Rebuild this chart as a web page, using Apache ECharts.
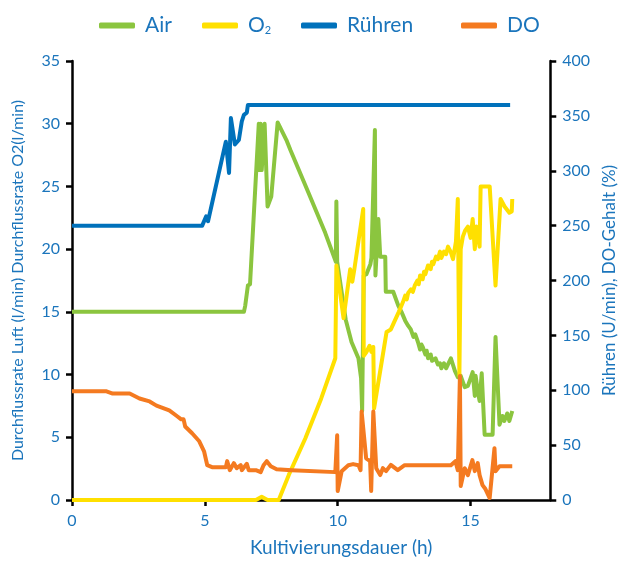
<!DOCTYPE html>
<html>
<head>
<meta charset="utf-8">
<script src="https://cdn.jsdelivr.net/npm/echarts@6/dist/echarts.min.js"></script>
<style>
html,body{margin:0;padding:0;background:#fff;}
#chart{width:626px;height:562px;}
</style>
</head>
<body>
<div id="chart"></div>
<script>
// Tick values
var xTicks = [0, 5, 10, 15];
var leftTicks = [0, 5, 10, 15, 20, 25, 30, 35];
var rightTicks = [0, 50, 100, 150, 200, 250, 300, 350, 400];

// Series names
var seriesNames = ['Air', 'O₂', 'Rühren', 'DO'];

// Air flow (l/min), [time h, value]
var airData = [
[0,15],[6.47,15],[6.52,15.5],[6.57,16.3],[6.62,17.1],[6.7,17.2],[7.03,30],[7.05,26.3],[7.1,30],[7.14,26.3],[7.25,30],
[7.36,23.4],[7.5,24.2],[7.74,30.1],[8.07,28.7],[8.22,27.9],[8.9,24.5],[9.53,21.3],[9.93,19.0],[9.95,23.8],[9.98,19.0],
[10.3,14.4],[10.52,12.6],[10.78,11.3],[10.88,9.7],[10.92,7.1],[10.98,17.9],[11.08,18.0],[11.23,18.8],[11.27,19.3],
[11.4,29.5],[11.42,17.9],[11.53,22.4],[11.6,19.4],[11.79,19.4],[11.81,16.6],[12.09,16.6],[12.28,15.5],[12.35,15.6],[12.4,15.0],
[12.47,14.9],[12.54,14.3],[12.6,14.4],[12.65,13.9],[12.72,14.0],[12.75,13.6],[12.85,13.0],[12.92,13.2],[13.02,12.6],[13.1,12.0],
[13.15,12.4],[13.2,12.2],[13.3,11.6],[13.35,11.9],[13.4,11.3],[13.5,11.6],[13.55,11.1],[13.6,11.0],[13.68,11.3],[13.77,10.8],
[13.85,10.9],[13.9,10.5],[14.0,10.9],[14.08,10.5],[14.15,10.6],[14.26,11.3],[14.41,10.3],[14.52,9.8],
[14.63,9.9],[14.78,9.0],[14.9,9.1],[15.0,9.7],[15.08,10.2],[15.16,8.3],[15.19,9.9],[15.27,8.7],[15.34,7.9],[15.42,10.1],
[15.53,5.2],[15.83,5.2],[15.94,13.0],[16.09,6.0],[16.2,6.7],[16.27,6.3],[16.38,6.9],[16.46,6.3],[16.57,7.1]
];

// O2 flow (l/min)
var o2Data = [
[0,0],[6.92,0],[7.14,0.25],[7.36,0],[7.78,0],[8.16,2.0],[8.78,4.9],[9.38,8.1],[9.91,11.3],[9.95,18.7],[10.22,14.5],
[10.47,18.4],[10.55,17.4],[10.62,18.3],[10.96,23.2],[10.98,11.5],[11.08,11.8],[11.2,12.3],[11.27,11.8],[11.34,12.2],
[11.37,7.3],[11.84,13.4],[12.0,13.6],[12.3,15.0],[12.46,15.8],[12.54,16.3],[12.6,16.0],[12.65,16.5],[12.76,16.8],[12.83,16.6],
[12.9,17.1],[13.0,17.5],[13.05,17.2],[13.1,17.9],[13.2,17.6],[13.25,18.2],[13.3,18.0],[13.4,18.7],[13.5,18.4],[13.55,19.0],
[13.6,18.8],[13.7,19.4],[13.77,19.2],[13.85,19.8],[13.9,19.3],[14.0,19.8],[14.08,19.6],
[14.15,20.2],[14.25,19.8],[14.34,19.2],[14.45,20.6],[14.52,24.0],[14.58,9.9],[14.63,20.0],[14.71,21.0],[14.8,21.5],
[14.9,21.8],[15.0,20.9],[15.08,22.4],[15.16,20.0],[15.22,21.8],[15.27,21.3],[15.34,20.2],[15.38,25.0],[15.72,25.0],
[15.94,17.1],[16.13,24.0],[16.28,23.4],[16.46,22.9],[16.55,23.0],[16.57,24.0]
];

// Stirring (U/min)
var ruehrenData = [
[0,250],[4.9,250],[5.05,258.5],[5.12,254],[5.79,326.5],[5.91,298],[5.98,348],[6.13,324],[6.28,328],[6.39,345],
[6.47,351],[6.58,353],[6.62,360],[16.49,360]
];

// DO (%)
var doData = [
[0,99],[1.3,99],[1.53,97],[2.17,97],[2.54,92.5],[2.92,89.8],[3.18,86],[3.66,81.6],[3.92,77],[4.11,73.5],[4.2,73.5],
[4.26,67],[4.52,60.8],[4.79,53.5],[4.97,44.4],[5.09,31.7],[5.27,29.9],[5.79,29.9],[5.84,35.4],[5.94,27.2],[6.09,33.6],
[6.2,29],[6.35,31.7],[6.39,27.2],[6.58,33],[6.65,27.2],[6.92,27.2],[7.1,25.4],[7.21,31.7],[7.33,35.4],[7.48,30.8],
[7.7,28.1],[8.27,27.2],[9.91,25.4],[9.98,59],[10.0,8.2],[10.15,26.3],[10.4,31.7],[10.58,32.7],[10.78,31.7],[10.86,27.2],
[10.9,80.7],[11.07,38],[11.22,35.4],[11.26,8.2],[11.34,80.7],[11.45,29],[11.6,22.7],[11.7,29],[11.82,26.3],[12.0,32],
[12.26,27.2],[12.52,31.7],[14.26,31.7],[14.43,35.4],[14.52,27.2],[14.6,113],[14.63,12.7],[14.78,29],[14.9,22.7],
[15.07,36.3],[15.16,26.3],[15.27,33.6],[15.34,22.7],[15.45,13.6],[15.56,10],[15.72,1.8],[15.9,47.2],[15.94,26.3],
[16.09,30.8],[16.57,30.8]
];

var colors = ['#8bc53f', '#ffe000', '#0071bb', '#f47a20'];
var textBlue = '#1b75bc';
var FONT = 'Lato, "Liberation Sans", sans-serif';

var chart = echarts.init(document.getElementById('chart'), null, {renderer: 'canvas'});

function legendAt(name, left) {
  return {
    data: [name],
    left: left,
    top: 10,
    icon: 'roundRect',
    itemWidth: 36,
    itemHeight: 6,
    selectedMode: false,
    textStyle: {
      color: textBlue, fontSize: 21, fontFamily: FONT, padding: [0, 0, 0, 5],
      rich: {
        o: {color: textBlue, fontSize: 21, fontFamily: FONT},
        s: {color: textBlue, fontSize: 11, fontFamily: FONT, padding: [10, 0, 0, 0]}
      }
    },
    formatter: function (n) { return n === 'O₂' ? '{o|O}{s|2}' : n; }
  };
}

var axisLineStyle = {show: true, lineStyle: {color: '#000', width: 2.5}};
var axisTickStyle = {show: true, length: 6, lineStyle: {color: '#000', width: 2.5}};

var option = {
  animation: false,
  backgroundColor: '#fff',
  legend: [
    legendAt(seriesNames[0], 94),
    legendAt(seriesNames[1], 197),
    legendAt(seriesNames[2], 296),
    legendAt(seriesNames[3], 456)
  ],
  grid: {left: 72, right: 71, top: 61, bottom: 60, containLabel: false},
  xAxis: {
    type: 'value',
    min: 0, max: 18, interval: 5,
    name: 'Kultivierungsdauer (h)',
    nameLocation: 'middle',
    nameGap: 38,
    nameTextStyle: {color: textBlue, fontSize: 19, fontFamily: FONT, padding: [0, 0, 0, 60]},
    axisLine: axisLineStyle,
    axisTick: axisTickStyle,
    splitLine: {show: false},
    axisLabel: {
      color: textBlue, fontSize: 16, fontFamily: FONT, margin: 13, showMaxLabel: false,
      formatter: function (v) { return xTicks.indexOf(v) >= 0 ? String(v) : ''; }
    }
  },
  yAxis: [
    {
      type: 'value', position: 'left',
      min: leftTicks[0], max: leftTicks[leftTicks.length - 1], interval: 5,
      name: 'Durchflussrate Luft (l/min) Durchflussrate O2(l/min)',
      nameLocation: 'middle', nameGap: 46, nameRotate: 90,
      nameTextStyle: {color: textBlue, fontSize: 16, fontFamily: FONT},
      axisLine: axisLineStyle, axisTick: axisTickStyle, splitLine: {show: false},
      axisLabel: {color: textBlue, fontSize: 16, fontFamily: FONT, margin: 12}
    },
    {
      type: 'value', position: 'right',
      min: rightTicks[0], max: rightTicks[rightTicks.length - 1], interval: 50,
      name: 'Rühren (U/min), DO-Gehalt (%)',
      nameLocation: 'middle', nameGap: 50, nameRotate: 90,
      nameTextStyle: {color: textBlue, fontSize: 17, fontFamily: FONT},
      axisLine: axisLineStyle, axisTick: axisTickStyle, splitLine: {show: false},
      axisLabel: {color: textBlue, fontSize: 16, fontFamily: FONT, margin: 12}
    }
  ],
  series: [
    {name: seriesNames[0], type: 'line', yAxisIndex: 0, data: airData, showSymbol: false, symbol: 'none',
     lineStyle: {color: colors[0], width: 4, join: 'round'}, itemStyle: {color: colors[0]}, z: 2},
    {name: seriesNames[1], type: 'line', yAxisIndex: 0, data: o2Data, showSymbol: false, symbol: 'none',
     lineStyle: {color: colors[1], width: 4, join: 'round'}, itemStyle: {color: colors[1]}, z: 3},
    {name: seriesNames[2], type: 'line', yAxisIndex: 1, data: ruehrenData, showSymbol: false, symbol: 'none',
     lineStyle: {color: colors[2], width: 4, join: 'round'}, itemStyle: {color: colors[2]}, z: 4},
    {name: seriesNames[3], type: 'line', yAxisIndex: 1, data: doData, showSymbol: false, symbol: 'none',
     lineStyle: {color: colors[3], width: 4, join: 'round'}, itemStyle: {color: colors[3]}, z: 5}
  ]
};
chart.setOption(option);
</script>
</body>
</html>
